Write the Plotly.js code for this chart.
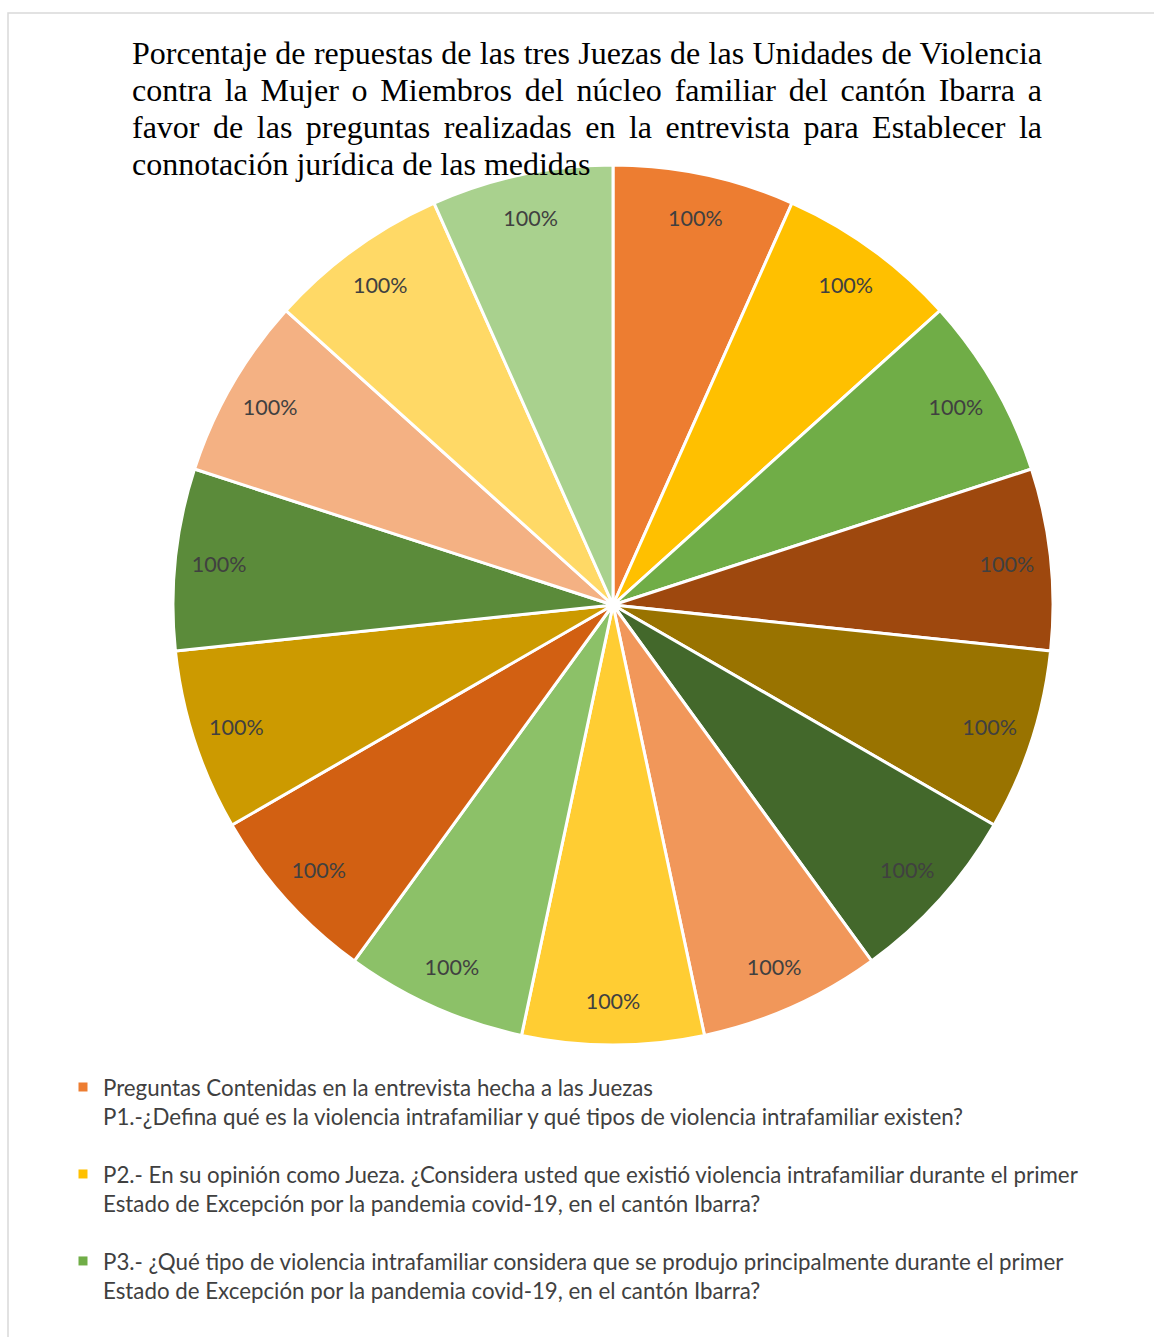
<!DOCTYPE html>
<html>
<head>
<meta charset="utf-8">
<script src="https://cdn.plot.ly/plotly-3.0.1.min.js"></script>
<style>html,body{margin:0;padding:0;background:#fff;}</style>
</head>
<body>
<div id="chart" style="width:1154px;height:1337px;"></div>
<script>
// ---- data ----
const titleLines = [
  "Porcentaje de repuestas de las tres Juezas de las Unidades de Violencia",
  "contra la Mujer o Miembros del núcleo familiar del cantón Ibarra a",
  "favor de las preguntas realizadas en la entrevista para Establecer la",
  "connotación jurídica de las medidas"
];
const categories = [
  "Preguntas Contenidas en la entrevista hecha a las Juezas<br>P1.-¿Defina qué es la violencia intrafamiliar y qué tipos de violencia intrafamiliar existen?",
  "P2.- En su opinión como Jueza. ¿Considera usted que existió violencia intrafamiliar durante el primer<br>Estado de Excepción por la pandemia covid-19, en el cantón Ibarra?",
  "P3.- ¿Qué tipo de violencia intrafamiliar considera que se produjo principalmente durante el primer<br>Estado de Excepción por la pandemia covid-19, en el cantón Ibarra?",
  "P4", "P5", "P6", "P7", "P8", "P9", "P10", "P11", "P12", "P13", "P14", "P15"
];
const percentages = [100, 100, 100, 100, 100, 100, 100, 100, 100, 100, 100, 100, 100, 100, 100];
const legendCount = 3;

// ---- styles ----
const colors = ["#ED7D31", "#FFC000", "#70AD47", "#9E480E", "#997300", "#43682B",
                "#F1975A", "#FFCD33", "#8CC168", "#D26012", "#CC9A00", "#5B8B3A",
                "#F4B183", "#FFD966", "#A9D18E"];

const W = 1154, H = 1337;
const cx = 613, cy = 605, R = 440;
const pieDomain = {x: [(cx - R) / W, (cx + R) / W], y: [1 - (cy + R) / H, 1 - (cy - R) / H]};

// filled slices
const pie = {
  type: 'pie',
  labels: categories,
  values: percentages,
  textinfo: 'none',
  sort: false,
  direction: 'clockwise',
  rotation: 0,
  showlegend: false,
  hoverinfo: 'none',
  marker: {colors: colors, line: {color: '#FFFFFF', width: 3}},
  domain: pieDomain
};

// data labels placed near the outer end of each slice (transparent ring)
const pieLabels = {
  type: 'pie',
  labels: categories,
  values: percentages,
  text: percentages.map(v => v + '%'),
  textinfo: 'text',
  textposition: 'inside',
  insidetextorientation: 'horizontal',
  textfont: {family: 'Lato, "Open Sans", sans-serif', size: 21.5, color: '#404040'},
  hole: 0.8,
  sort: false,
  direction: 'clockwise',
  rotation: 0,
  showlegend: false,
  hoverinfo: 'none',
  marker: {colors: categories.map(() => 'rgba(0,0,0,0)'), line: {width: 0}},
  domain: pieDomain
};

const legendTraces = categories.slice(0, legendCount).map((c, i) => ({
  type: 'scatter', mode: 'markers', x: [null], y: [null],
  name: c, legendgroup: 'g' + i, showlegend: true, hoverinfo: 'skip',
  marker: {symbol: 'square', size: 9, color: colors[i]}
}));

const annotations = titleLines.map((t, i) => ({
  xref: 'paper', yref: 'paper', x: 130 / W, y: 1 - (73 + 37 * i) / H,
  xanchor: 'left', yanchor: 'bottom', align: 'left', showarrow: false,
  text: t, font: {family: '"Liberation Serif", "Times New Roman", serif', size: 32, color: '#000000'}
}));

const layout = {
  width: W, height: H,
  margin: {l: 0, r: 0, t: 0, b: 0},
  paper_bgcolor: '#FFFFFF', plot_bgcolor: '#FFFFFF',
  xaxis: {visible: false, domain: [0, 0.01]}, yaxis: {visible: false, domain: [0, 0.01]},
  showlegend: true,
  legend: {
    x: 63 / W, y: 1 - 1066 / H, xanchor: 'left', yanchor: 'top',
    orientation: 'v', valign: 'top', tracegroupgap: 26, traceorder: 'grouped',
    font: {family: 'Lato, "Open Sans", sans-serif', size: 22.3, color: '#404040'},
    bgcolor: 'rgba(0,0,0,0)'
  },
  annotations: annotations,
  shapes: [{
    type: 'rect', xref: 'paper', yref: 'paper',
    x0: 8 / W, x1: 1.05, y0: -0.05, y1: 1 - 13 / H,
    line: {color: '#D9D9D9', width: 1.5}, fillcolor: 'rgba(0,0,0,0)', layer: 'below'
  }]
};

Plotly.newPlot('chart', [pie, pieLabels].concat(legendTraces), layout, {displayModeBar: false, responsive: false}).then(() => {
  // justify the first title lines across the title width
  const targetW = 1042 - 132;
  const texts = document.querySelectorAll('.annotation-text');
  texts.forEach((el, i) => {
    if (i >= titleLines.length - 1) return;
    const len = el.getComputedTextLength();
    const spaces = (titleLines[i].match(/ /g) || []).length;
    if (spaces > 0 && len < targetW) {
      el.style.wordSpacing = ((targetW - len) / spaces) + 'px';
    }
  });
});
</script>
</body>
</html>
